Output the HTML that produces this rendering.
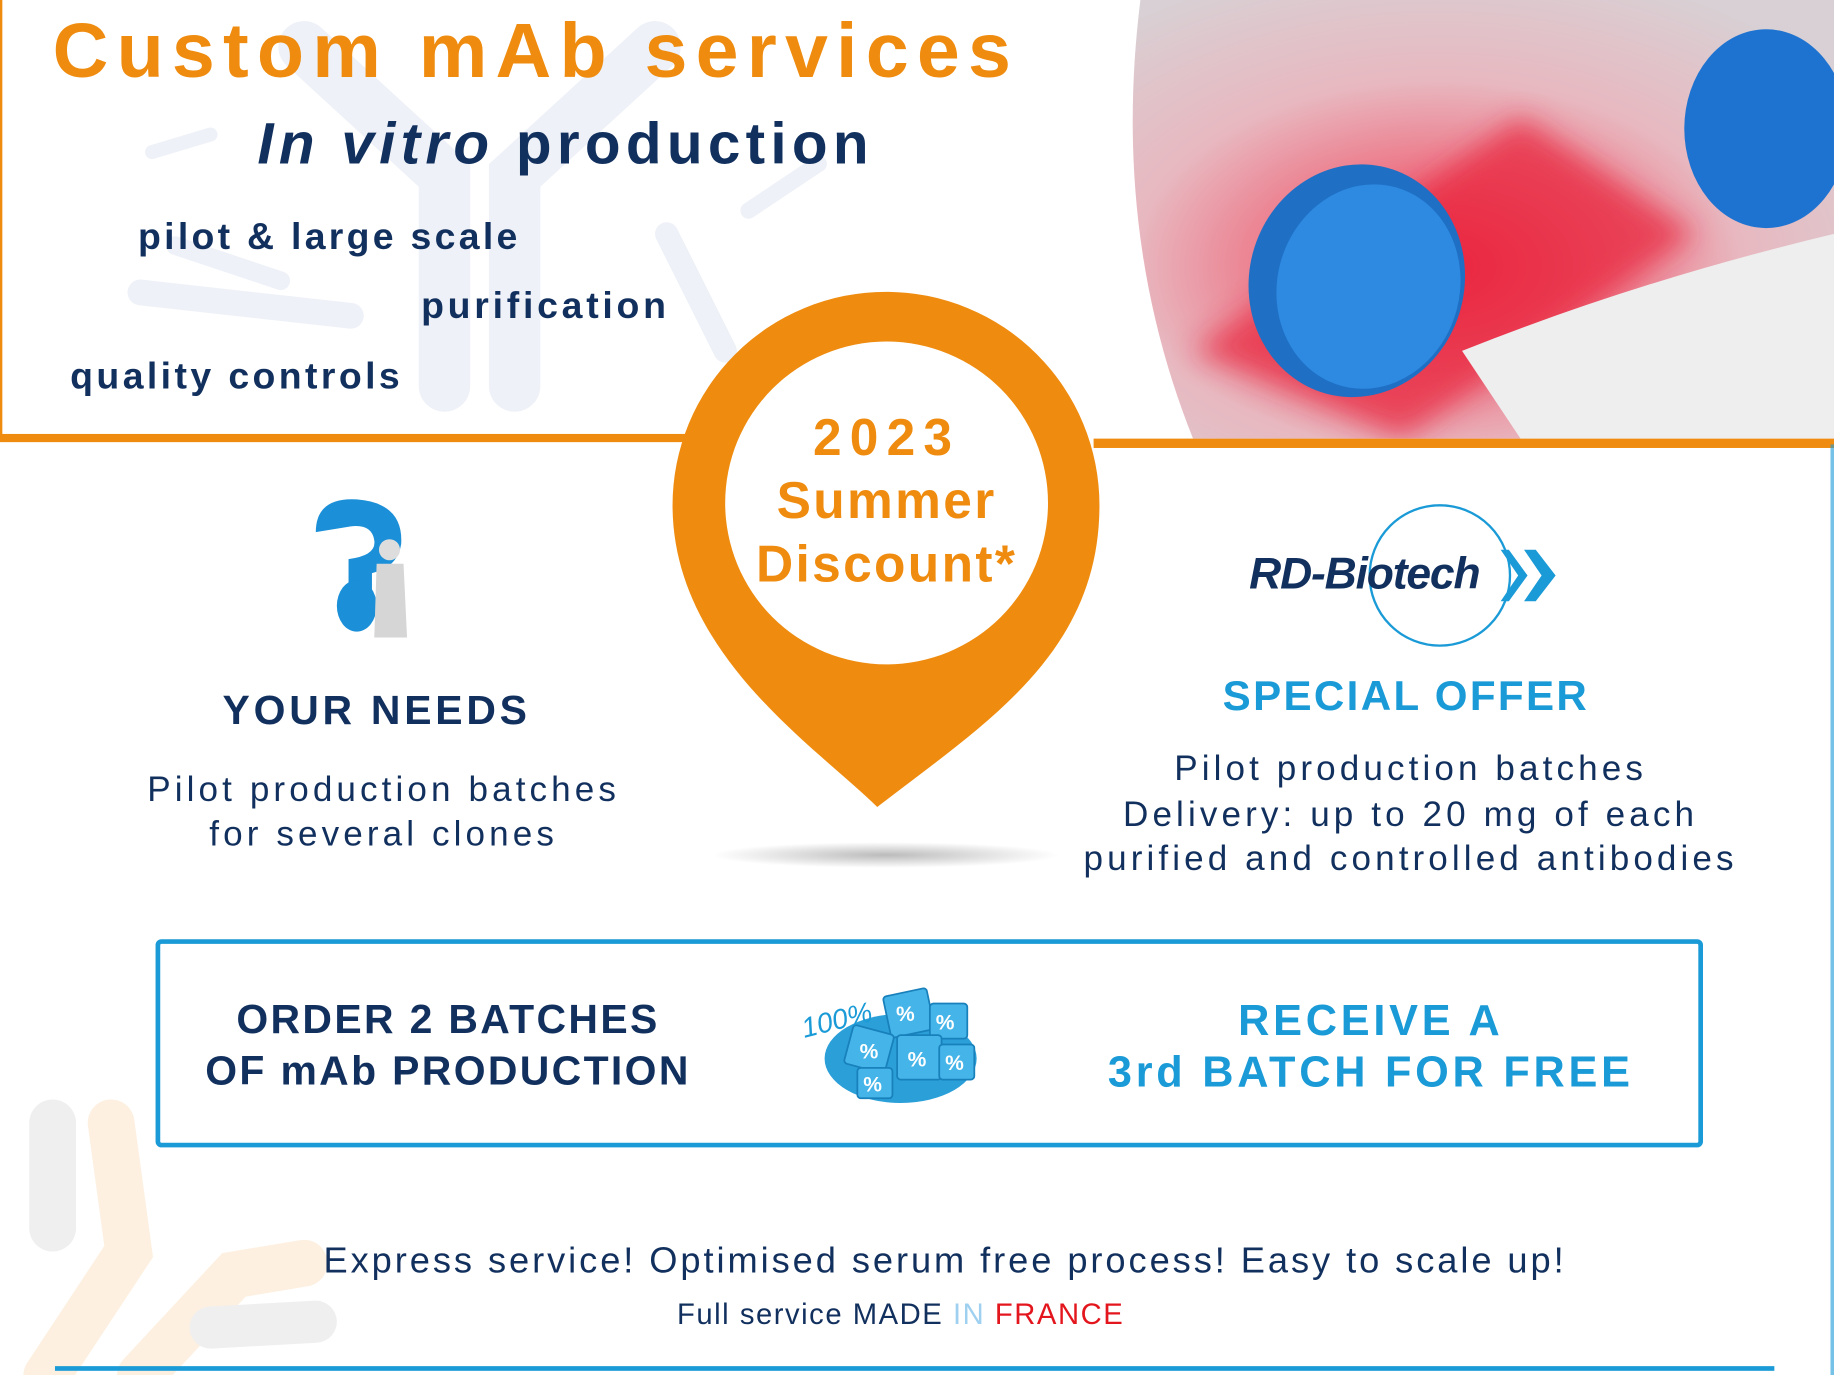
<!DOCTYPE html>
<html><head><meta charset="utf-8"><style>
html,body{margin:0;padding:0;background:#fff;overflow:hidden}
#wrap{width:1834px;height:1375px;position:relative;overflow:hidden}
#s{position:absolute;left:0;top:0;width:1568px;height:1176px;transform:scale(1.16964);transform-origin:0 0;font-family:"Liberation Sans",sans-serif}
.t{position:absolute;white-space:nowrap;line-height:1}
.c{transform:translateX(-50%);text-align:center}
.navy{color:#12305e}
.or{color:#ef8c0f}
.bl{color:#1a9ad6}
</style></head><body><div id="wrap"><div id="s">

<svg width="1568" height="1176" style="position:absolute;left:0;top:0">
 <g stroke="#eef1f7" stroke-linecap="round" fill="none">
  <path d="M380 330 L380 150 L260 40" stroke-width="44"/>
  <path d="M440 330 L440 150 L560 40" stroke-width="44"/>
  <path d="M120 250 L300 270" stroke-width="22"/>
  <path d="M150 210 L240 240" stroke-width="16"/>
  <path d="M570 200 L620 300" stroke-width="20"/>
  <path d="M130 130 L180 115" stroke-width="12"/>
  <path d="M640 180 L700 140" stroke-width="14"/>
 </g>
 <g stroke-linecap="round" fill="none">
  <path d="M45 960 L45 1050" stroke="#efefef" stroke-width="40"/>
  <path d="M95 960 L110 1070 L40 1176" stroke="#fdf0e0" stroke-width="40"/>
  <path d="M120 1176 L200 1090 L260 1080" stroke="#fdf0e0" stroke-width="40"/>
  <path d="M180 1135 L270 1130" stroke="#efefef" stroke-width="36"/>
 </g>
 <rect x="0" y="0" width="2" height="376" fill="#ef8c0f"/>
 <rect x="0" y="371" width="592" height="7" fill="#ef8c0f"/>
 <rect x="935" y="375" width="633" height="8" fill="#ef8c0f"/>
 <rect x="1565" y="380" width="3" height="796" fill="#1a9ad6" opacity=".6"/>
 <rect x="47" y="1168" width="1470" height="4" fill="#1a9ad6"/>
 <defs>
  <clipPath id="ph"><path d="M975 0 L1568 0 L1568 375 L1020 375 Q950 200 975 0Z"/></clipPath>
  <radialGradient id="rg" cx="0.45" cy="0.6" r="0.7"><stop offset="0" stop-color="#f2304a"/><stop offset=".6" stop-color="#e8b8c0"/><stop offset="1" stop-color="#d8d0d4"/></radialGradient>
  <radialGradient id="sh" cx=".5" cy=".5" r=".5"><stop offset="0" stop-color="#bbb"/><stop offset="1" stop-color="#bbb" stop-opacity="0"/></radialGradient>
  <filter id="bl"><feGaussianBlur stdDeviation="12"/></filter>
 </defs>
 <g clip-path="url(#ph)">
  <rect x="950" y="0" width="620" height="380" fill="url(#rg)"/>
  <path d="M1020 300 L1300 100 L1450 200 L1200 375Z" fill="#e8203a" opacity=".7" filter="url(#bl)"/>
  <path d="M1250 300 Q1400 240 1568 200 L1568 375 L1300 375Z" fill="#eeeeee"/>
  <ellipse cx="1160" cy="240" rx="92" ry="100" transform="rotate(15 1160 240)" fill="#1f6fc4"/>
  <ellipse cx="1170" cy="245" rx="78" ry="88" transform="rotate(15 1170 245)" fill="#2d8ae0"/>
  <ellipse cx="1510" cy="110" rx="70" ry="85" fill="#1f73d0"/>
 </g>
 <path d="M750 690 C700 640 575 560 575 432 A182 182 0 1 1 940 432 C940 560 840 620 750 690Z" fill="#ef8c0f"/>
 <circle cx="758" cy="430" r="138" fill="#fff"/>
 <ellipse cx="757" cy="731" rx="148" ry="11" fill="url(#sh)"/>
 <path d="M270 455 Q270 425 305 427 Q345 430 343 465 Q340 485 318 490 L318 505 L298 505 L298 478 Q322 475 320 462 Q318 448 300 450 Z" fill="#1b8fd8"/>
 <ellipse cx="305" cy="518" rx="17" ry="22" fill="#1b8fd8"/>
 <circle cx="333" cy="470" r="9" fill="#ddd"/>
 <path d="M322 482 L345 482 L348 545 L320 545Z" fill="#d6d6d6"/>
 <circle cx="1231" cy="492" r="60" fill="none" stroke="#1a9ad6" stroke-width="2"/>
 <path d="M1283 470 L1298 492 L1283 514 L1290 514 L1306 492 L1290 470Z" fill="#1a9ad6"/>
 <path d="M1303 470 L1318 492 L1303 514 L1313 514 L1330 492 L1313 470Z" fill="#1a9ad6"/>
 <rect x="135" y="805" width="1319" height="174" rx="3" fill="none" stroke="#1a9ad6" stroke-width="4"/>
 <ellipse cx="770" cy="905" rx="65" ry="38" fill="#2a9fd8"/>
 <g fill="#45b4e8" stroke="#1880bb" stroke-width="1.5">
  <rect x="758" y="848" width="38" height="36" rx="3" transform="rotate(-12 777 866)"/>
  <rect x="795" y="858" width="32" height="30" rx="3"/>
  <rect x="725" y="880" width="36" height="34" rx="3" transform="rotate(15 743 897)"/>
  <rect x="767" y="885" width="38" height="38" rx="3"/>
  <rect x="803" y="893" width="30" height="30" rx="3"/>
  <rect x="733" y="913" width="30" height="26" rx="3"/>
 </g>
 <g fill="#fff" font-family="Liberation Sans" font-size="18" font-weight="bold">
  <text x="766" y="873">%</text><text x="800" y="880">%</text><text x="735" y="905">%</text>
  <text x="776" y="912">%</text><text x="808" y="915">%</text><text x="738" y="933">%</text>
 </g>
 <text x="683" y="880" fill="#1a9ad6" font-family="Liberation Sans" font-style="italic" font-size="24" transform="rotate(-14 715 865)">100%</text>
</svg>

<div class="t or" style="left:45px;top:10px;font-size:66px;font-weight:bold;letter-spacing:7px">Custom mAb services</div>
<div class="t navy" style="left:220px;top:98px;font-size:50px;font-weight:bold;letter-spacing:4.5px"><i>In vitro</i> production</div>
<div class="t navy" style="left:118px;top:186px;font-size:32px;font-weight:bold;letter-spacing:2.8px">pilot &amp; large scale</div>
<div class="t navy" style="left:360px;top:245px;font-size:32px;font-weight:bold;letter-spacing:3.2px">purification</div>
<div class="t navy" style="left:60px;top:305px;font-size:32px;font-weight:bold;letter-spacing:2.9px">quality controls</div>

<div class="t or c" style="left:758px;top:348px;font-size:44px;font-weight:bold;letter-spacing:2px;line-height:54px"><span style="letter-spacing:7px">2023</span><br>Summer<br>Discount*</div>

<div class="t navy c" style="left:322px;top:590px;font-size:35px;font-weight:bold;letter-spacing:3.2px">YOUR NEEDS</div>
<div class="t navy c" style="left:328px;top:657px;font-size:30px;letter-spacing:3.5px;line-height:38px">Pilot production batches<br>for several clones</div>

<div class="t navy" style="left:1068px;top:472px;font-size:38px;font-weight:bold;font-style:italic;letter-spacing:-1px">RD-Biotech</div>
<div class="t bl c" style="left:1202px;top:577px;font-size:36px;font-weight:bold;letter-spacing:2px">SPECIAL OFFER</div>
<div class="t navy c" style="left:1206px;top:639px;font-size:30px;letter-spacing:3.5px;line-height:38.5px">Pilot production batches<br>Delivery: up to 20 mg of each<br>purified and controlled antibodies</div>

<div class="t navy c" style="left:383px;top:850px;font-size:35px;font-weight:bold;letter-spacing:2px;line-height:44px">ORDER 2 BATCHES<br>OF mAb PRODUCTION</div>
<div class="t bl c" style="left:1172px;top:851px;font-size:37px;font-weight:bold;letter-spacing:3.2px;line-height:44px">RECEIVE A<br>3rd BATCH FOR FREE</div>

<div class="t navy c" style="left:808px;top:1062px;font-size:31px;letter-spacing:2.5px">Express service! Optimised serum free process! Easy to scale up!</div>
<div class="t navy c" style="left:770px;top:1112px;font-size:25px;letter-spacing:1.3px">Full service MADE <span style="color:#9fd0f0">IN</span> <span style="color:#e3161e">FRANCE</span></div>

</div></div></body></html>
